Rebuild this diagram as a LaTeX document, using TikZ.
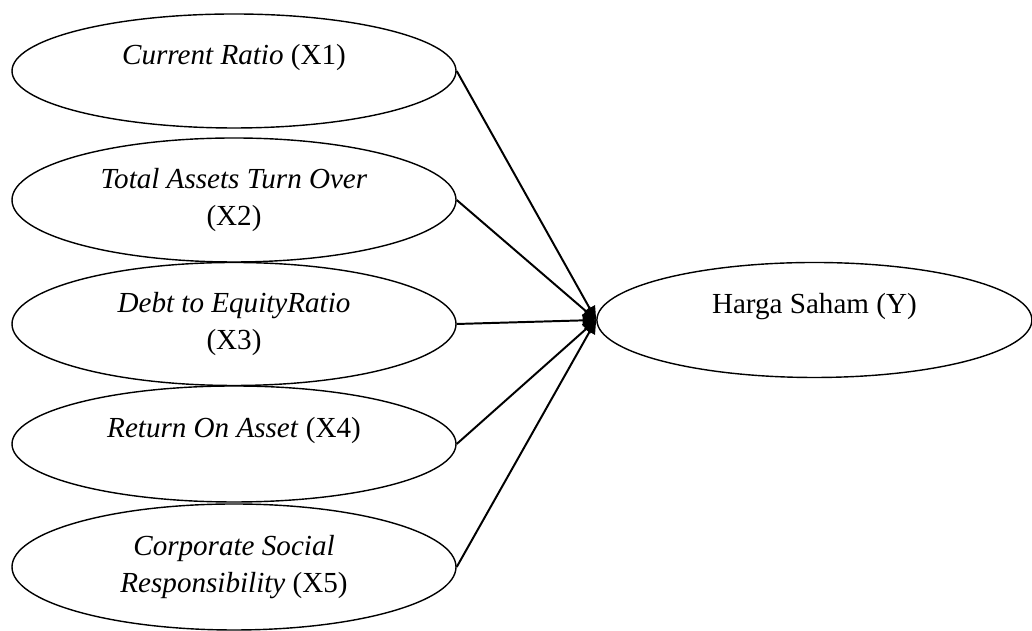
\documentclass[tikz,border=0pt]{standalone}
\usepackage{fontspec}
\setmainfont{Liberation Serif}
\usetikzlibrary{shapes.geometric,arrows.meta}

\tikzset{
  var/.style={draw,ellipse,line width=1pt,minimum width=11.1cm,align=center,
    inner sep=0pt,font=\fontsize{20.7}{26.3}\selectfont},
  path/.style={line width=1.4pt,-{Triangle[length=0.34cm,width=0.3cm]}}
}

\begin{document}
\begin{tikzpicture}
%\draw[thin,gray] (0,0) grid (26,16);
\useasboundingbox (0,0) rectangle (25.8,15.775);

\node[var,minimum height=2.85cm] (x1) at (5.85,14.0) {\textit{Current Ratio} (X1)\\[-10pt] \strut};
\node[var,minimum height=3.1cm] (x2) at (5.85,10.775) {\textit{Total Assets Turn Over}\\(X2)};
\node[var,minimum height=3.075cm] (x3) at (5.85,7.675) {\textit{Debt to EquityRatio}\\(X3)};
\node[var,minimum height=2.9cm] (x4) at (5.85,4.675) {\textit{Return On Asset} (X4)\\[-10pt] \strut};
\node[var,minimum height=3.15cm] (x5) at (5.85,1.6) {\textit{Corporate Social}\\\textit{Responsibility} (X5)};

\node[var,minimum width=10.875cm,minimum height=2.875cm] (y) at (20.36,7.775) {Harga Saham (Y)\\[-10pt] \strut};

\draw[path] (x1.east)--(y.west);
\draw[path] (x2.east)--(y.west);
\draw[path] (x3.east)--(y.west);
\draw[path] (x4.east)--(y.west);
\draw[path] (x5.east)--(y.west);
\end{tikzpicture}
\end{document}
